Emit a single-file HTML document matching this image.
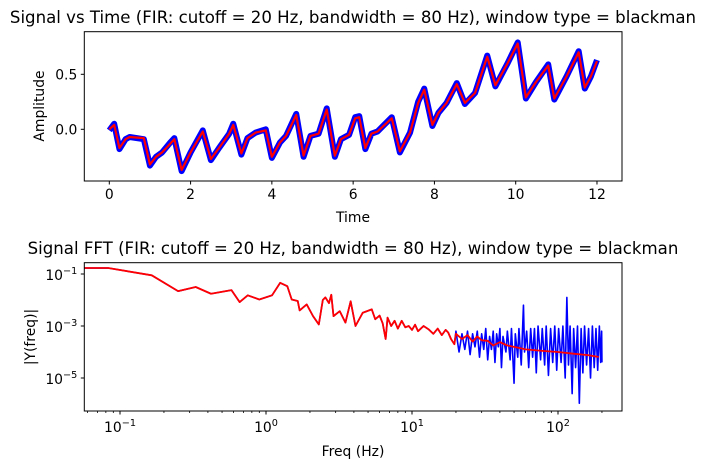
<!DOCTYPE html>
<html><head><meta charset="utf-8"><style>
body{margin:0;background:#fff;}
svg{display:block;font-family:"DejaVu Sans","Liberation Sans",sans-serif;}
</style></head><body>
<svg id="fig" width="706" height="469" viewBox="0 0 706 469" xmlns="http://www.w3.org/2000/svg">
<rect width="706" height="469" fill="#fff"/>
<text x="353" y="23" font-size="16.6" text-anchor="middle" fill="#000">Signal vs Time (FIR: cutoff = 20 Hz, bandwidth = 80 Hz), window type = blackman</text>
<text x="353" y="254" font-size="16.6" text-anchor="middle" fill="#000">Signal FFT (FIR: cutoff = 20 Hz, bandwidth = 80 Hz), window type = blackman</text>
<g id="topPlot"></g>
<g id="botPlot"></g>
<text x="353" y="222" font-size="13.9" text-anchor="middle">Time</text>
<text transform="translate(44,106) rotate(-90)" font-size="13.9" text-anchor="middle">Amplitude</text>
<text x="353" y="456" font-size="13.9" text-anchor="middle">Freq (Hz)</text>
<text transform="translate(35,337) rotate(-90)" font-size="13.9" text-anchor="middle">|Y(freq)|</text>
</svg>
<script>
const timeT = [0,0.12,0.25,0.4,0.5,0.85,1.0,1.15,1.3,1.5,1.6,1.78,2.0,2.3,2.5,2.7,2.95,3.05,3.25,3.4,3.6,3.85,4.0,4.2,4.35,4.6,4.78,4.95,5.15,5.35,5.55,5.7,5.9,6.05,6.15,6.3,6.45,6.6,6.95,7.15,7.4,7.6,7.75,7.95,8.1,8.3,8.55,8.75,9.0,9.3,9.5,9.8,10.05,10.25,10.5,10.8,10.95,11.25,11.55,11.7,11.85,12.0];
const filteredAmp = [0,0.04,-0.17,-0.09,-0.07,-0.08,-0.32,-0.25,-0.21,-0.13,-0.09,-0.37,-0.21,-0.02,-0.27,-0.17,-0.04,0.04,-0.22,-0.08,-0.03,-0.01,-0.25,-0.12,-0.06,0.13,-0.24,-0.06,-0.04,0.18,-0.24,-0.09,-0.05,0.10,0.11,-0.17,-0.04,-0.02,0.10,-0.20,-0.03,0.24,0.36,0.04,0.15,0.24,0.41,0.24,0.33,0.66,0.40,0.60,0.78,0.29,0.43,0.58,0.28,0.48,0.70,0.38,0.48,0.62];
const rawAmp = [-0.01,0.05,-0.18,-0.09,-0.07,-0.09,-0.33,-0.25,-0.21,-0.12,-0.08,-0.38,-0.21,-0.01,-0.28,-0.17,-0.04,0.05,-0.23,-0.08,-0.03,0.0,-0.26,-0.12,-0.06,0.14,-0.25,-0.06,-0.04,0.19,-0.25,-0.09,-0.05,0.11,0.12,-0.18,-0.04,-0.02,0.11,-0.21,-0.03,0.25,0.37,0.03,0.15,0.24,0.42,0.23,0.33,0.67,0.39,0.60,0.79,0.28,0.43,0.59,0.27,0.48,0.71,0.37,0.48,0.63];
const timeTicks = [0,2,4,6,8,10,12];
const ampTicks = [0.0,0.5];
const ampTickLabels = ["0.0","0.5"];

const fftFreq = [0.0567,0.083,0.165,0.25,0.33,0.42,0.58,0.66,0.75,0.9,1.1,1.25,1.4,1.5,1.65,1.7,1.9,2.1,2.3,2.45,2.55,2.7,2.8,2.9,3.2,3.5,3.8,4.1,4.6,5.3,5.6,6.0,6.3,6.6,6.8,7.2,7.6,8.0,8.5,9.0,9.5,10,10.5,11,12,13,14,15,16,17,17.7,18.5,19.5];
const fftLogRed = [-0.77,-0.77,-1.05,-1.66,-1.5,-1.76,-1.62,-2.08,-1.82,-1.98,-1.82,-1.34,-1.47,-1.98,-2.04,-2.4,-2.17,-2.62,-2.94,-2.0,-1.9,-2.12,-1.8,-2.62,-2.43,-2.87,-2.05,-3.0,-2.49,-2.36,-2.74,-2.6,-2.9,-3.5,-2.68,-3.0,-2.8,-3.1,-2.8,-3.05,-3.0,-3.15,-2.95,-3.2,-3.0,-3.13,-3.3,-3.1,-3.35,-3.15,-3.25,-3.5,-3.7];
const redTailFreq = [20,22,24,26,28,30,33,36,40,45,53,60,80,100,125,160,190];
const redTailLog = [-3.3,-3.5,-3.35,-3.6,-3.4,-3.55,-3.57,-3.75,-3.62,-3.75,-3.83,-3.9,-3.96,-4.0,-4.06,-4.12,-4.19];
const blueTailFreq = [20,21,22,23,24,25,26,27,28,29,30,31,32,33,34,35,36,37,38,39,40,41,42,44,45,47,48,50,51,53,54,56,58,59,61,63,65,67,69,71,73,76,78,81,83,86,89,92,95,98,101,105,108,112,115,118,121,125,128,132,136,140,144,148,152,157,162,167,172,177,182,187,192,196,199,200];
const blueTailLog = [-3.2,-4.0,-3.3,-3.9,-3.2,-4.1,-3.3,-3.8,-3.2,-4.2,-3.3,-3.9,-3.1,-4.3,-3.4,-3.9,-3.2,-4.4,-3.3,-3.8,-3.1,-4.6,-3.4,-4.0,-3.2,-4.3,-3.1,-5.2,-3.3,-4.2,-3.1,-4.5,-2.2,-4.0,-3.2,-4.6,-3.1,-4.2,-3.1,-4.8,-3.0,-4.3,-3.1,-4.5,-3.0,-4.9,-3.1,-4.4,-3.0,-4.7,-3.1,-4.4,-3.0,-5.0,-1.9,-4.5,-3.0,-5.6,-3.1,-4.6,-3.0,-5.97,-3.1,-4.8,-3.0,-4.5,-3.1,-5.0,-3.0,-4.6,-3.1,-4.7,-3.0,-4.4,-3.2,-4.4];
const freqTickExp = [-1,0,1,2];
const fftTickExp = [-1,-3,-5];

const NS="http://www.w3.org/2000/svg";
function mk(parent,tag,attrs){const e=document.createElementNS(NS,tag);for(const k in attrs)e.setAttribute(k,attrs[k]);parent.appendChild(e);return e;}
function pathOf(xs,ys,fx,fy){return xs.map((x,i)=>(i?'L':'M')+fx(x).toFixed(2)+','+fy(ys[i]).toFixed(2)).join('');}

// top axes
const T={l:84.3,r:622,t:31.7,b:181};
const tx=t=>109.3+t*40.64;
const ty=v=>129.3-v*110;
const topG=document.getElementById('topPlot');
let p=mk(topG,'path',{d:pathOf(timeT,rawAmp,tx,ty),fill:'none',stroke:'#0000ff','stroke-width':6,'stroke-linejoin':'round'});


p=mk(topG,'path',{d:pathOf(timeT,filteredAmp,tx,ty),fill:'none',stroke:'#ff0000','stroke-width':2.2,'stroke-linejoin':'round'});


let fr=mk(topG,'rect',{x:T.l,y:T.t,width:T.r-T.l,height:T.b-T.t,fill:'none',stroke:'#000','stroke-width':1});


timeTicks.forEach(t=>{
  mk(topG,'line',{x1:tx(t),x2:tx(t),y1:T.b,y2:T.b+3.5,stroke:'#000'});
  const e=mk(topG,'text',{x:tx(t),y:T.b+18,'font-size':13.9,'text-anchor':'middle'});e.textContent=t;
  
  
});
ampTicks.forEach((v,i)=>{
  mk(topG,'line',{x1:T.l-3.5,x2:T.l,y1:ty(v),y2:ty(v),stroke:'#000'});
  const e=mk(topG,'text',{x:T.l-7,y:ty(v)+5,'font-size':13.9,'text-anchor':'end'});e.textContent=ampTickLabels[i];
  
  
});

// bottom axes
const B={l:84.3,r:622,t:262.7,b:411};
const fx=f=>120+(Math.log10(f)+1)*146;
const fy=lg=>274-(lg+1)*26;
const botG=document.getElementById('botPlot');
const blueF=fftFreq.concat(blueTailFreq), blueL=fftLogRed.concat(blueTailLog);
p=mk(botG,'path',{d:pathOf(blueF,blueL,fx,fy),fill:'none',stroke:'#0000ff','stroke-width':1.6,'stroke-linejoin':'round'});


const redF=fftFreq.concat(redTailFreq), redL=fftLogRed.concat(redTailLog);
p=mk(botG,'path',{d:pathOf(redF,redL,fx,fy),fill:'none',stroke:'#ff0000','stroke-width':1.8,'stroke-linejoin':'round'});


fr=mk(botG,'rect',{x:B.l,y:B.t,width:B.r-B.l,height:B.b-B.t,fill:'none',stroke:'#000','stroke-width':1});


for(let d=-2;d<=2;d++)for(let m=2;m<=9;m++){const x=fx(m*Math.pow(10,d));if(x>B.l&&x<B.r)mk(botG,'line',{x1:x,x2:x,y1:B.b,y2:B.b+2,stroke:'#000','stroke-width':0.8});}
function pow10(parent,x,y,exp,anchor){
  const e=mk(parent,'text',{x:x,y:y,'font-size':13.9,'text-anchor':anchor});
  const a=mk(e,'tspan',{});a.textContent='10';
  const b=mk(e,'tspan',{'font-size':9.7,dy:-6});b.textContent=(exp<0?'\u2212':'')+Math.abs(exp);
  return e;
}
freqTickExp.forEach(k=>{
  const x=fx(Math.pow(10,k));
  mk(botG,'line',{x1:x,x2:x,y1:B.b,y2:B.b+3.5,stroke:'#000'});
  const e=pow10(botG,x,B.b+21,k,'middle');
  
  
});
fftTickExp.forEach(k=>{
  const y=fy(k);
  mk(botG,'line',{x1:B.l-3.5,x2:B.l,y1:y,y2:y,stroke:'#000'});
  const e=pow10(botG,B.l-7,y+6,k,'end');
  
  
});
</script>
</body></html>
